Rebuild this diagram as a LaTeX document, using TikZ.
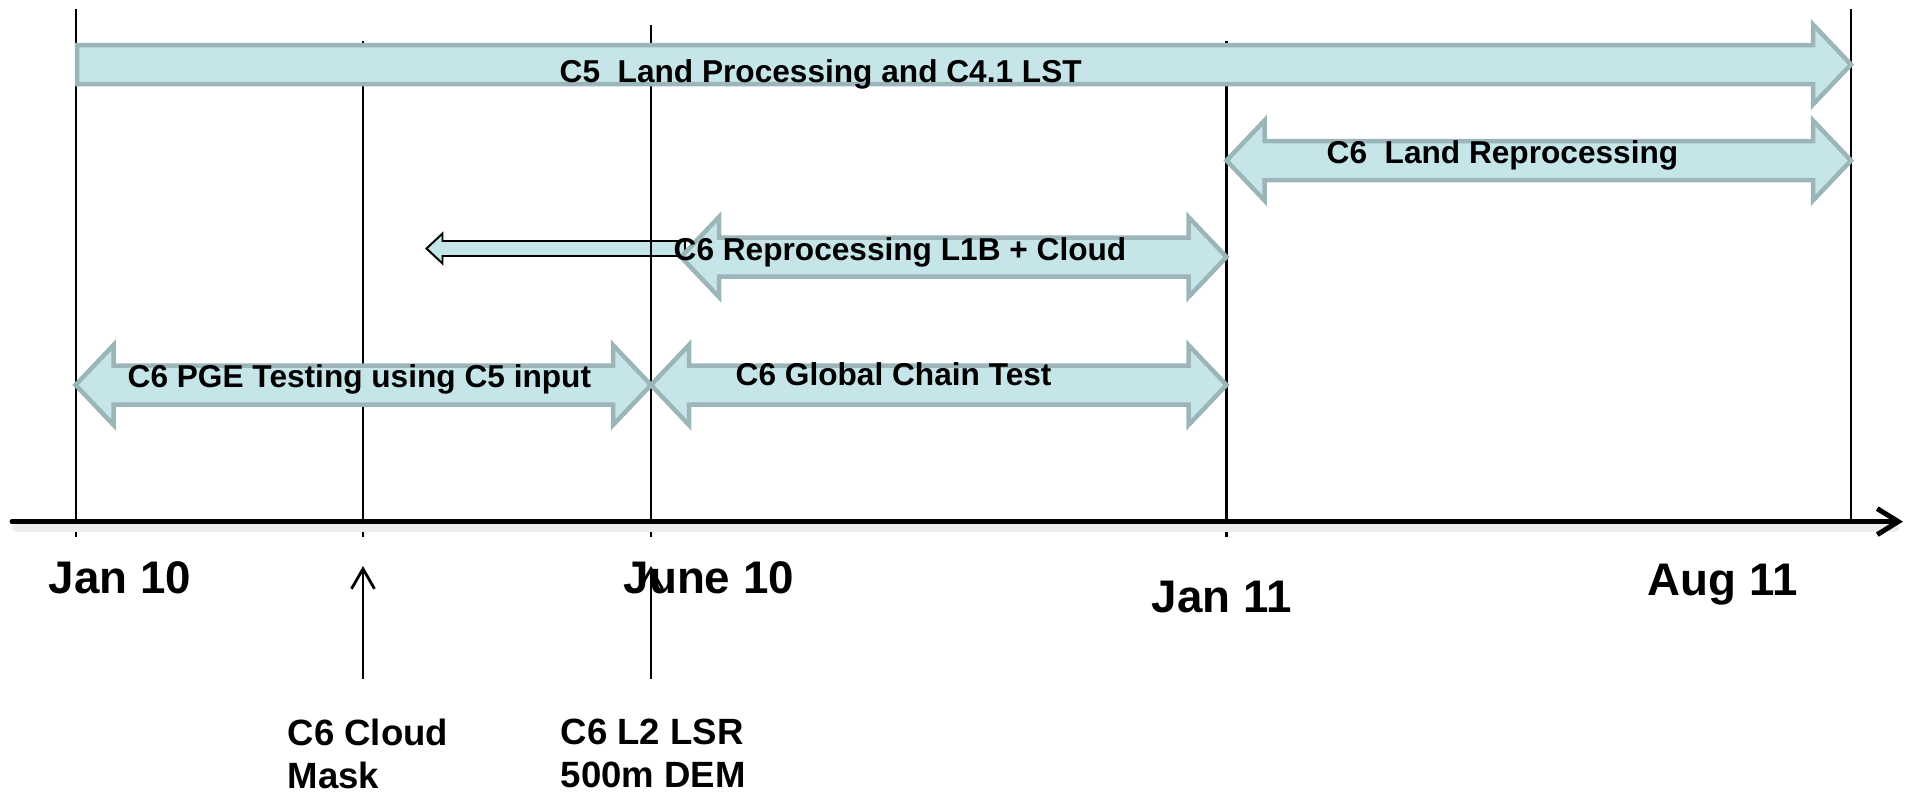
\documentclass[tikz,border=0pt]{standalone}
\usepackage{fontspec}
\setmainfont{Liberation Sans}
\usepackage{tikz}
\usetikzlibrary{arrows.meta,calc}

\definecolor{barfill}{RGB}{198,229,232}
\definecolor{barline}{RGB}{155,181,185}

\tikzset{
	bar/.style={fill=barfill, draw=barline, line width=0.45mm, line join=miter},
	barlabel/.style={anchor=base west, inner sep=0pt, font=\fontsize{9}{11}\selectfont\bfseries},
	datelabel/.style={anchor=base west, inner sep=0pt, font=\fontsize{13}{16}\selectfont\bfseries},
	eventlabel/.style={anchor=north west, inner sep=0pt, align=left, font=\fontsize{10.4}{12.4}\selectfont\bfseries},
	gridline/.style={line width=0.6pt},
	eventarrow/.style={line width=0.8pt, -{Straight Barb[length=2mm,width=2.3mm]}},
}

% fat double arrow: left tip x, right tip x, centre y
\newcommand{\dblbar}[3]{%
	\draw[bar] (#1,#3) -- ++(38,-40) -- ++(0,20.5) -- (#2-38,#3-19.5) -- ++(0,-20.5)
		-- (#2,#3) -- ++(-38,40) -- ++(0,-20.5) -- (#1+38,#3+19.5) -- ++(0,20.5) -- cycle;}

\begin{document}
\begin{tikzpicture}[x=0.1mm, y=-0.1mm]
	\useasboundingbox (0,0) rectangle (1911,793);

	% small reference arrow
	\draw[fill=barfill, line width=0.55pt] (426.5,248.5) -- (442.5,233.5) -- (442.5,241) -- (685,241)
		-- (685,256) -- (442.5,256) -- (442.5,263.5) -- cycle;

	% month lines
	\foreach \name/\x/\top/\bot in {jan10/75.6/9/537, cloud/363/41/537, jun10/651/25/537,
		jan11/1226.5/41/537, aug11/1851/9/521.6} {
		\coordinate (\name-top) at (\x,\top);
		\coordinate (\name-bot) at (\x,\bot);
		\draw[gridline] (\name-top) -- (\name-bot);
	}

	% time axis
	\coordinate (axis-start) at (12,521.6);
	\coordinate (axis-end) at (1903,521.6);
	\draw[black!7, line width=0.8mm, line cap=round] ($(axis-start)+(4,6)$) -- ($(axis-end)+(-8,6)$);
	\draw[line width=0.5mm, line cap=round, -{Straight Barb[length=2.1mm,width=2.6mm]}] (axis-start) -- (axis-end);

	% bars
	\draw[bar] (77,45) -- (1813,45) -- (1813,24.5) -- (1851,64.5) -- (1813,104.5) -- (1813,84) -- (77,84) -- cycle;
	\node[barlabel] (c5lst) at (559,82) {C5\ \ Land Processing and C4.1 LST};

	\dblbar{1226.5}{1851}{160.5}
	\node[barlabel] (c6land) at (1326,163) {C6\ \ Land Reprocessing};

	\dblbar{681}{1226.5}{257}
	\node[barlabel] (c6l1b) at (673,260) {C6 Reprocessing L1B + Cloud};

	\dblbar{75.6}{651}{385}
	\node[barlabel] (c6pge) at (127,387) {C6 PGE Testing using C5 input};

	\dblbar{651}{1226.5}{385}
	\node[barlabel] (c6chain) at (735,385) {C6 Global Chain Test};

	% dates
	\node[datelabel] (jan10) at (48,593) {Jan 10};
	\node[datelabel] (jun10) at (623,593) {June 10};
	\node[datelabel] (jan11) at (1151,612) {Jan 11};
	\node[datelabel] (aug11) at (1647,595) {Aug 11};

	% deliveries
	\coordinate (cloud-foot) at (363,679);
	\coordinate (cloud-head) at (363,566);
	\coordinate (lsr-foot) at (651,679);
	\coordinate (lsr-head) at (651,566);
	\draw[eventarrow] (cloud-foot) -- (cloud-head);
	\draw[eventarrow] (lsr-foot) -- (lsr-head);
	\node[eventlabel] (cloudmask) at (287,718) {C6 Cloud\\Mask};
	\node[eventlabel] (lsr) at (560,718) {C6 L2 LSR\\500m DEM};
\end{tikzpicture}
\end{document}
